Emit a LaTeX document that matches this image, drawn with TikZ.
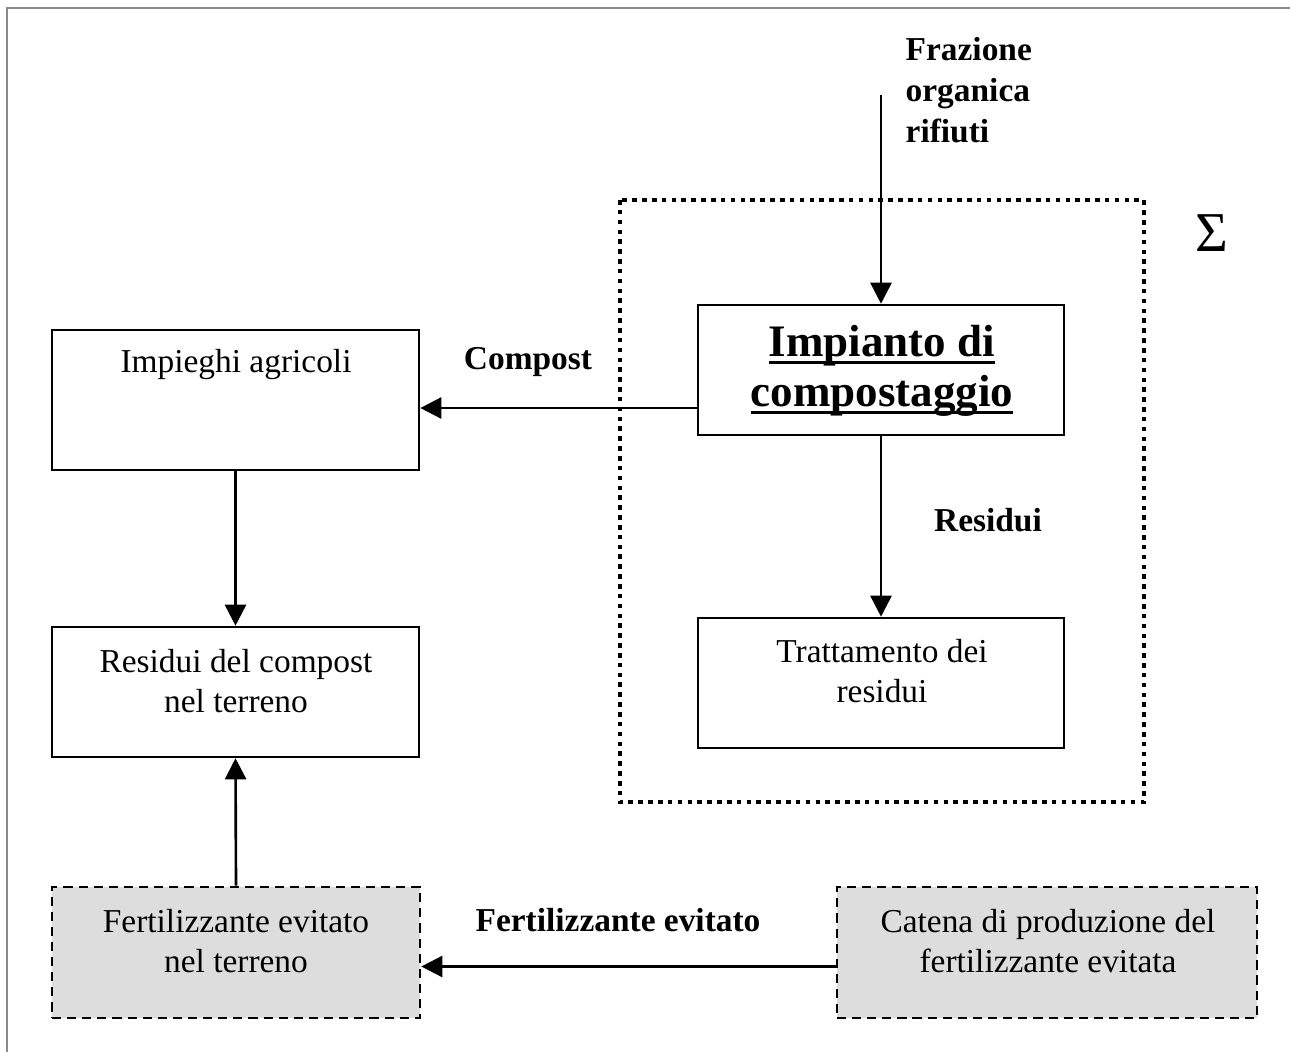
\documentclass[tikz,border=0pt]{standalone}
\usepackage{fontspec}
\setmainfont{Liberation Serif}
\usetikzlibrary{arrows.meta}
\definecolor{boxgray}{HTML}{DDDDDD}
\definecolor{framegray}{HTML}{8A8A8A}
% underline at a fixed depth below the baseline
\newcommand\barunder[1]{\setbox0\hbox{#1}\leavevmode\rlap{\rule[-2pt]{\wd0}{0.8pt}}\box0}
\begin{document}
\begin{tikzpicture}[x=0.01cm,y=-0.01cm,
  box/.style={draw, line width=0.7pt, rectangle, inner sep=0pt},
  avoided/.style={box, dash pattern=on 2.6pt off 1.7pt, fill=boxgray},
  flow/.style={line width=0.75pt, -{Triangle[length=6pt,width=6pt]}},
  txt/.style={font=\fontsize{9.5}{11.3}\selectfont, align=center, inner sep=0pt},
  lbl/.style={font=\fontsize{9.5}{11.6}\selectfont\bfseries, inner sep=0pt},
]
\useasboundingbox (0,0) rectangle (1290,1052);
% page frame
\draw[framegray, line width=0.6pt] (7,1052) -- (7,8) -- (1290,8);

% system boundary
\draw[line width=1.3pt, dash pattern=on 1.3pt off 1.5pt] (620,200) rectangle (1144,802);
\node[font=\fontsize{16}{18}\selectfont, inner sep=0pt] (sigma) at (1212,233) {Σ};

% boxes
\node[box, minimum width=3.67cm, minimum height=1.40cm] (impieghi) at (235.5,400) {};
\node[box, minimum width=3.67cm, minimum height=1.30cm] (residui) at (235.5,692) {};
\node[avoided, minimum width=3.68cm, minimum height=1.31cm] (fert) at (236,952.5) {};
\node[avoided, minimum width=4.20cm, minimum height=1.31cm] (catena) at (1047,952.5) {};
\node[box, minimum width=3.66cm, minimum height=1.30cm] (impianto) at (881,370) {};
\node[box, minimum width=3.66cm, minimum height=1.30cm] (tratt) at (881,683) {};

% box texts
\node[txt] (impieghiT) at (236,365) {Impieghi agricoli};
\node[txt] (residuiT) at (236,681) {Residui del compost\\nel terreno};
\node[txt] (fertT) at (236,941) {Fertilizzante evitato\\nel terreno};
\node[txt] (catenaT) at (1048,941) {Catena di produzione del\\fertilizzante evitata};
\node[txt] (trattT) at (882,671) {Trattamento dei\\residui};
\node[align=center, inner sep=0pt, font=\fontsize{12.8}{14.2}\selectfont\bfseries] (impiantoT) at (882,371)
  {\barunder{Impianto di}\\\barunder{compostaggio}};

% flow labels
\node[lbl, anchor=west, align=left] (frazione) at (905,90) {Frazione\\organica\\rifiuti};
\node[lbl] (compostL) at (528,362) {Compost};
\node[lbl] (residuiL) at (988,520) {Residui};
\node[lbl] (fertL) at (618,920) {Fertilizzante evitato};

% connectors
\coordinate (feed) at (881,95);
\draw[flow] (feed) -- (impianto.north);
\draw[flow] ([yshift=-0.38cm]impianto.west) coordinate (c1) -- (c1 -| impieghi.east);
\draw[flow] (impianto.south) -- (tratt.north);
\draw[flow] (impieghi.south) -- (residui.north);
\draw[flow] (fert.north) -- (residui.south);
\draw[flow] ([yshift=-0.14cm]catena.west) coordinate (c2) -- (c2 -| fert.east);
\end{tikzpicture}
\end{document}
